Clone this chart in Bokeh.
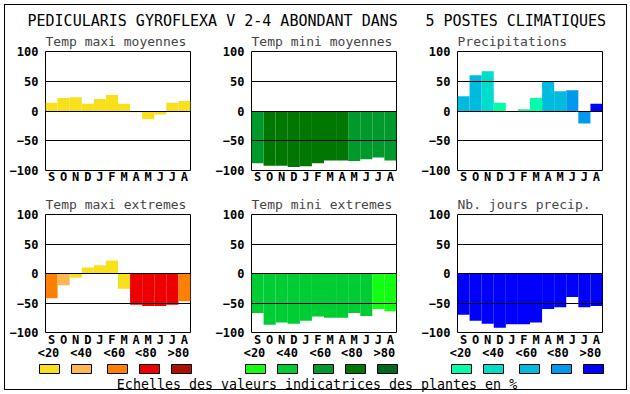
from bokeh.plotting import figure
from bokeh.layouts import column, row
from bokeh.models import Range1d, FixedTicker, LinearAxis, ColumnDataSource
from bokeh.embed import file_html
from bokeh.resources import INLINE
from bokeh.core.properties import value

# ---------------- data ----------------
title_parts = ["PEDICULARIS GYROFLEXA V 2-4 ABONDANT DANS", "5 POSTES CLIMATIQUES"]
footer_text = "Echelles des valeurs indicatrices des plantes en %"
months = ["S", "O", "N", "D", "J", "F", "M", "A", "M", "J", "J", "A"]
scale_labels = ["<20", "<40", "<60", "<80", ">80"]
y_ticks = [-100, -50, 0, 50, 100]
grid_ticks = [-50, 0, 50]

temp_colors = ["#F8E11C", "#FFB84F", "#FF7F00", "#EE0000", "#AA1100"]
green_colors = ["#11FF11", "#00CC33", "#00992B", "#007700", "#006622"]
blue_colors = ["#00FFAA", "#00DDCC", "#00BBDD", "#0099EE", "#0000FF"]

tmax_moy = [14, 22, 23, 12, 20, 27, 12, -2, -14, -6, 14, 17]
tmax_moy_cls = [0, 0, 0, 0, 0, 0, 0, 0, 0, 0, 0, 0]
tmin_moy = [-88, -92, -92, -94, -93, -88, -83, -83, -84, -81, -78, -83]
tmin_moy_cls = [2, 3, 3, 3, 3, 3, 3, 3, 2, 2, 2, 2]
precip = [25, 60, 67, 14, 0, 3, 22, 49, 33, 35, -21, 12]
precip_cls = [2, 2, 1, 0, 0, 0, 0, 2, 2, 3, 3, 4]
tmax_ext = [-42, -20, -7, 10, 14, 22, -26, -53, -55, -55, -53, -47]
tmax_ext_cls = [2, 1, 0, 0, 0, 0, 0, 3, 3, 3, 3, 2]
tmin_ext = [-67, -87, -83, -85, -80, -73, -75, -75, -67, -72, -60, -64]
tmin_ext_cls = [1, 1, 1, 1, 1, 1, 1, 1, 1, 1, 0, 0]
jours = [-70, -80, -85, -92, -86, -86, -83, -60, -57, -40, -57, -55]
jours_cls = [4, 4, 4, 4, 4, 4, 4, 4, 4, 4, 4, 4]

# positions of the class labels under the bottom panels (in month units)
scale_pos = [0.25, 2.95, 5.7, 8.3, 11.0]

# ---------------- layout constants ----------------
FONT = "DejaVu Sans Mono"
COL_W = [206, 206, 218]
LEFT = 45
FRAME_W = 145
FRAME_H = 120
HEAD_H = 28
TOP_H = 161
BOT_H = 173
TOTAL_W = sum(COL_W)
LEG_H = 394 - HEAD_H - TOP_H - BOT_H
swatch_off = [4, 36, 72, 104, 136]


def panel(title, vals, cls, palette, col, bottom):
    w = COL_W[col]
    h = BOT_H if bottom else TOP_H
    top_b = 25 if bottom else 22
    p = figure(width=w, height=h, x_range=Range1d(0, len(months)),
               y_range=Range1d(-100, 100), output_backend="svg",
               toolbar_location=None, title=title,
               min_border_left=LEFT, min_border_right=w - LEFT - FRAME_W,
               min_border_top=top_b, min_border_bottom=h - top_b - FRAME_H)
    p.title.text_font = FONT
    p.title.text_font_size = "13px"
    p.title.text_font_style = "normal"
    p.title.text_line_height = 1.0
    p.title.align = "left"
    p.title.standoff = 6
    p.title.offset = 0
    src = ColumnDataSource(dict(x=[i + 0.5 for i in range(len(vals))],
                                top=vals,
                                color=[palette[c] for c in cls]))
    p.vbar(x="x", width=1.0, top="top", bottom=0, color="color", source=src,
           line_color=None)
    p.outline_line_color = "black"
    p.outline_line_alpha = 1
    p.outline_line_width = 1
    p.xgrid.visible = False
    p.ygrid.ticker = FixedTicker(ticks=grid_ticks)
    p.ygrid.grid_line_color = "black"
    p.ygrid.grid_line_width = 1
    p.ygrid.level = "overlay"

    p.yaxis.ticker = FixedTicker(ticks=y_ticks)
    p.xaxis.ticker = FixedTicker(ticks=[i + 0.5 for i in range(len(months))])
    p.xaxis.major_label_overrides = {i + 0.5: m for i, m in enumerate(months)}
    axes = [p.yaxis[0], p.xaxis[0]]
    if bottom:
        ax2 = LinearAxis(ticker=FixedTicker(ticks=scale_pos),
                         major_label_overrides={pv: lab for pv, lab in zip(scale_pos, scale_labels)})
        p.add_layout(ax2, "below")
        axes.append(ax2)
    for ax in axes:
        ax.axis_line_color = None
        ax.major_tick_line_color = None
        ax.minor_tick_line_color = None
        ax.major_tick_out = 0
        ax.major_tick_in = 0
        ax.minor_tick_out = 0
        ax.major_label_text_font = FONT
        ax.major_label_text_font_style = "bold"
        ax.major_label_text_font_size = "12px"
        ax.major_label_text_color = "black"
        ax.major_label_standoff = 0
    p.yaxis.major_label_standoff = 7
    p.xaxis[0].major_label_standoff = 0 if bottom else -1
    if bottom:
        axes[2].major_label_standoff = -4
    return p


def canvas(h):
    c = figure(width=TOTAL_W, height=h, x_range=Range1d(0, TOTAL_W),
               y_range=Range1d(h, 0), output_backend="svg",
               toolbar_location=None, min_border=0,
               x_axis_location=None, y_axis_location=None)
    c.outline_line_color = None
    c.grid.visible = False
    return c


p1 = panel("Temp maxi moyennes", tmax_moy, tmax_moy_cls, temp_colors, 0, False)
p2 = panel("Temp mini moyennes", tmin_moy, tmin_moy_cls, green_colors, 1, False)
p3 = panel("Precipitations", precip, precip_cls, blue_colors, 2, False)
p4 = panel("Temp maxi extremes", tmax_ext, tmax_ext_cls, temp_colors, 0, True)
p5 = panel("Temp mini extremes", tmin_ext, tmin_ext_cls, green_colors, 1, True)
p6 = panel("Nb. jours precip.", jours, jours_cls, blue_colors, 2, True)

header = canvas(HEAD_H)
header.text(x=[27, 425], y=[20, 20], text=title_parts,
            text_font=value(FONT), text_font_size="15px",
            text_align="left", text_baseline="alphabetic", text_color="black")

legend = canvas(LEG_H)
xs, cols = [], []
col_starts = [sum(COL_W[:i]) for i in range(3)]
for ci, pal in enumerate([temp_colors, green_colors, blue_colors]):
    for k, off in enumerate(swatch_off):
        xs.append(col_starts[ci] + LEFT + off)
        cols.append(pal[k])
legend.rect(x=xs, y=[6.5] * len(xs), width=20, height=9, fill_color=cols,
            line_color="black", line_width=1)
legend.text(x=[316.5], y=[22], text=[footer_text],
            text_font=value(FONT), text_font_size="13.3px",
            text_align="center", text_baseline="alphabetic", text_color="black")

frame_css = (":host { position: relative; } "
             ":host::after { content: ''; position: absolute; left: 4px; top: 4px; "
             "right: 3px; bottom: 4px; border: 1px solid black; "
             "pointer-events: none; z-index: 1000; }")

layout = column(header, row(p1, p2, p3), row(p4, p5, p6), legend,
                stylesheets=[frame_css])

open("out.html", "w").write(file_html(layout, INLINE))
